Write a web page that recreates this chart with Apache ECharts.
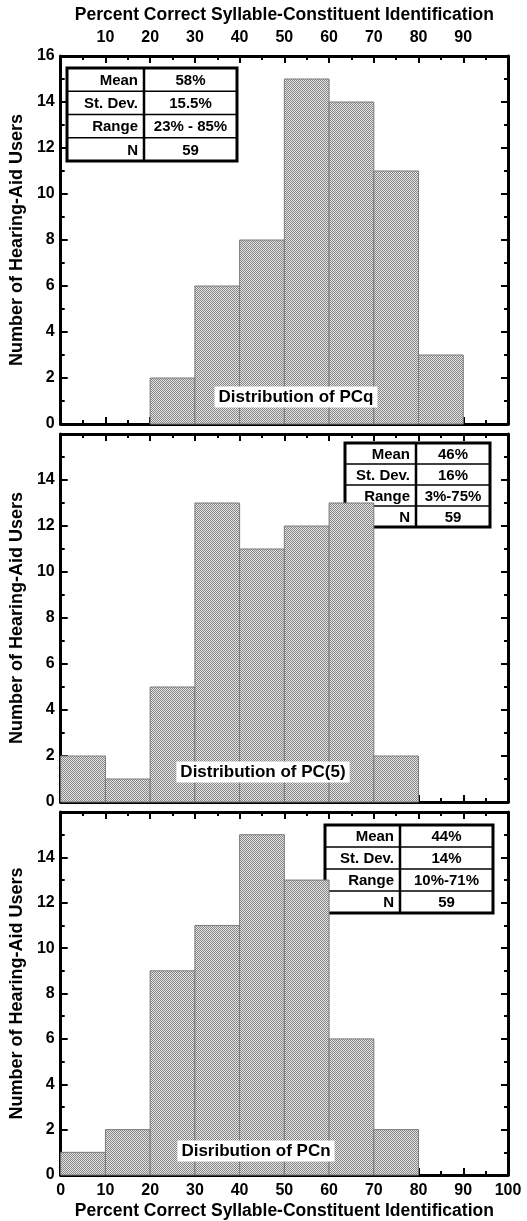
<!DOCTYPE html>
<html>
<head>
<meta charset="utf-8">
<script src="https://cdn.jsdelivr.net/npm/echarts@6/dist/echarts.min.js"></script>
<style>
html,body{margin:0;padding:0;background:#fff;}
#chart{width:527px;height:1221px;}
</style>
</head>
<body>
<div id="chart"></div>
<script>
// ---- data ----
const binStarts = [0, 10, 20, 30, 40, 50, 60, 70, 80, 90];
const binWidth = 10;
const pcqCounts = [0, 0, 2, 6, 8, 15, 14, 11, 3, 0];
const pc5Counts = [2, 1, 5, 13, 11, 12, 13, 2, 0, 0];
const pcnCounts = [1, 2, 9, 11, 15, 13, 6, 2, 0, 0];
const panelLabels = ['Distribution of PCq', 'Distribution of PC(5)', 'Disribution of PCn'];
const statNames = ['Mean', 'St. Dev.', 'Range', 'N'];
const pcqStats = ['58%', '15.5%', '23% - 85%', '59'];
const pc5Stats = ['46%', '16%', '3%-75%', '59'];
const pcnStats = ['44%', '14%', '10%-71%', '59'];
const xTitle = 'Percent Correct Syllable-Constituent Identification';
const yTitle = 'Number of Hearing-Aid Users';

// ---- layout ----
const FONT = '"Liberation Sans", Arial, Helvetica, sans-serif';
const gridLeft = 58, gridRight = 19;
const grids = [
  {top: 56, height: 368},
  {top: 434, height: 368},
  {top: 812, height: 368}
];
const tables = [
  {x: 67, y: 68, w: 170, h: 93, div: 77, stats: pcqStats},
  {x: 345, y: 443, w: 145, h: 84, div: 71, stats: pc5Stats},
  {x: 325, y: 825, w: 168, h: 88, div: 75, stats: pcnStats}
];
const labelPos = [[296, 397], [263, 772], [256, 1151]];

// pattern
const pat = document.createElement('canvas');
pat.width = 2; pat.height = 2;
const pctx = pat.getContext('2d');
pctx.fillStyle = '#e4e4e4'; pctx.fillRect(0, 0, 2, 2);
pctx.fillStyle = '#868686'; pctx.fillRect(0, 0, 1, 1); pctx.fillRect(1, 1, 1, 1);

const allCounts = [pcqCounts, pc5Counts, pcnCounts];

const option = {
  animation: false,
  backgroundColor: '#fff',
  grid: grids.map(g => ({left: gridLeft, right: gridRight, top: g.top, height: g.height, containLabel: false})),
  xAxis: [],
  yAxis: [],
  series: [],
  graphic: []
};

const axisLine = {show: true, onZero: false, lineStyle: {color: '#000', width: 3}};
const tickStyle = {show: true, inside: true, length: 7, lineStyle: {color: '#000', width: 2}};
const minorStyle = {show: true, splitNumber: 2, length: 4, lineStyle: {color: '#000', width: 2}};
const labelFont = {color: '#000', fontSize: 16, fontWeight: 'bold', fontFamily: FONT};
const titleFont = {color: '#000', fontSize: 17.5, fontWeight: 'bold', fontFamily: FONT};

grids.forEach((g, i) => {
  // bottom x
  option.xAxis.push({
    gridIndex: i, type: 'value', position: 'bottom', min: 0, max: 100, interval: 10,
    axisLine, axisTick: tickStyle, minorTick: minorStyle, splitLine: {show: false},
    axisLabel: Object.assign({show: i === 2, margin: 8}, labelFont),
    name: i === 2 ? xTitle : '', nameLocation: 'middle', nameGap: 27,
    nameTextStyle: titleFont
  });
  // top x
  option.xAxis.push({
    gridIndex: i, type: 'value', position: 'top', min: 0, max: 100, interval: 10,
    axisLine, axisTick: tickStyle, minorTick: minorStyle, splitLine: {show: false},
    axisLabel: Object.assign({show: i === 0, margin: 10,
      formatter: v => (v === 0 || v === 100) ? '' : String(v)}, labelFont),
    name: i === 0 ? xTitle : '', nameLocation: 'middle', nameGap: 32,
    nameTextStyle: titleFont
  });
  // left y
  option.yAxis.push({
    gridIndex: i, type: 'value', position: 'left', min: 0, max: 16, interval: 2,
    axisLine, axisTick: tickStyle, minorTick: minorStyle, splitLine: {show: false},
    axisLabel: Object.assign({margin: 6,
      formatter: v => (i > 0 && v === 16) ? '' : String(v)}, labelFont),
    name: yTitle, nameLocation: 'middle', nameGap: 30, nameRotate: 90,
    nameTextStyle: Object.assign({}, titleFont, {fontSize: 18})
  });
  // right y
  option.yAxis.push({
    gridIndex: i, type: 'value', position: 'right', min: 0, max: 16, interval: 2,
    axisLine, axisTick: tickStyle, minorTick: minorStyle, splitLine: {show: false},
    axisLabel: {show: false}
  });

  const data = binStarts.map((s, k) => [s, s + binWidth, allCounts[i][k]]).filter(d => d[2] > 0);
  option.series.push({
    type: 'custom', xAxisIndex: i * 2, yAxisIndex: i * 2, z: 1,
    data,
    renderItem: (params, api) => {
      const p0 = api.coord([api.value(0), api.value(2)]);
      const p1 = api.coord([api.value(1), 0]);
      return {
        type: 'rect',
        shape: {x: p0[0], y: p0[1], width: p1[0] - p0[0], height: p1[1] - p0[1]},
        style: {fill: {image: pat, repeat: 'repeat'}, stroke: '#7a7a7a', lineWidth: 1}
      };
    }
  });

  // label
  option.graphic.push({
    type: 'text', x: labelPos[i][0], y: labelPos[i][1], z: 50,
    style: {text: panelLabels[i], font: 'bold 17px ' + FONT, fill: '#000',
      align: 'center', verticalAlign: 'middle', backgroundColor: '#fff', padding: [2, 4]}
  });

  // table
  const t = tables[i];
  const rh = t.h / 4;
  const children = [];
  children.push({type: 'rect', shape: {x: 0, y: 0, width: t.w, height: t.h},
    style: {fill: '#fff', stroke: '#000', lineWidth: 3}});
  for (let r = 1; r < 4; r++) {
    children.push({type: 'line', shape: {x1: 0, y1: r * rh, x2: t.w, y2: r * rh},
      style: {stroke: '#000', lineWidth: 1.5}});
  }
  children.push({type: 'line', shape: {x1: t.div, y1: 0, x2: t.div, y2: t.h},
    style: {stroke: '#000', lineWidth: 2.5}});
  statNames.forEach((nm, r) => {
    children.push({type: 'text', x: t.div - 6, y: r * rh + rh / 2 + 1,
      style: {text: nm, font: 'bold 15px ' + FONT, fill: '#000', align: 'right', verticalAlign: 'middle'}});
    children.push({type: 'text', x: (t.div + t.w) / 2, y: r * rh + rh / 2 + 1,
      style: {text: t.stats[r], font: 'bold 15px ' + FONT, fill: '#000', align: 'center', verticalAlign: 'middle'}});
  });
  option.graphic.push({type: 'group', x: t.x, y: t.y, z: 60, children});
});

const chart = echarts.init(document.getElementById('chart'), null, {renderer: 'canvas'});
chart.setOption(option);
</script>
</body>
</html>
